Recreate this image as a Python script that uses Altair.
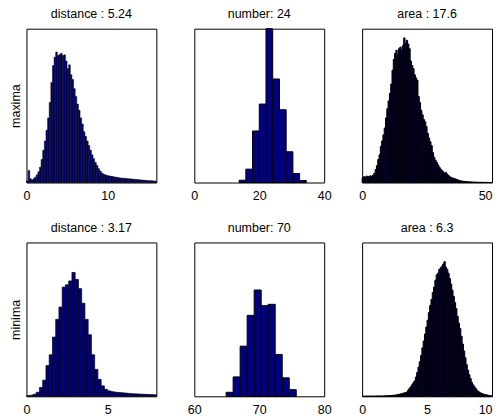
import altair as alt
import pandas as pd

FONT = "Liberation Sans"
FS = 12.5
NAVY = "#000080"

# ---- distance, maxima: bins of 0.2 from 0 to 16 ----
dist_max_start, dist_max_width = 0.0, 0.2
dist_max_counts = [
    10, 78, 25, 17, 25, 35, 50, 70, 100, 150,
    210, 270, 340, 420, 520, 650, 760, 815, 848, 825,
    832, 840, 825, 830, 790, 740, 765, 700, 670, 610,
    560, 510, 470, 420, 380, 330, 300, 270, 240, 210,
    180, 155, 130, 110, 90, 75, 62, 55, 50, 47,
    44, 42, 40, 38, 36, 34, 32, 30, 29, 28,
    27, 26, 25, 24, 23, 22, 21, 20, 19, 18,
    17, 16, 15, 14, 13, 12, 12, 11, 10, 10,
]

# ---- number, maxima ----
num_max_edges = [13.8, 15.87, 17.94, 20.01, 22.08, 24.15, 26.22, 28.29, 30.36, 32.43, 34.5]
num_max_counts = [15, 87, 335, 510, 1000, 673, 473, 200, 59, 13]

# ---- area, maxima: bins of 0.5 from 0 to 50 ----
area_max_start, area_max_width = 0.0, 0.5
area_max_counts = [
    30, 38, 35, 42, 36, 40, 44, 38, 48, 60,
    85, 110, 150, 180, 235, 270, 310, 355, 420, 480,
    530, 580, 640, 730, 800, 840, 860, 830, 870, 880,
    860, 890, 940, 905, 925, 900, 870, 790, 760, 740,
    700, 680, 665, 560, 520, 470, 440, 410, 395, 365,
    320, 290, 265, 240, 195, 165, 145, 130, 115, 100,
    88, 78, 70, 60, 66, 55, 46, 38, 33, 30,
    27, 24, 21, 18, 14, 12, 10, 9, 8, 7,
    6, 5, 5, 4, 4, 3, 3, 3, 2, 2,
    2, 2, 1, 1, 1, 1, 1, 0, 0, 0,
]

# ---- distance, minima: bins of 0.2 from 0 to 8 ----
dist_min_start, dist_min_width = 0.0, 0.2
dist_min_counts = [
    4, 7, 13, 26, 57, 105, 200, 270, 385, 500,
    580, 710, 725, 750, 805, 760, 700, 605, 500, 400,
    270, 175, 110, 68, 45, 35, 30, 27, 25, 23,
    21, 19, 17, 16, 15, 14, 13, 12, 11, 10,
]

# ---- number, minima ----
num_min_edges = [64.9, 65.98, 67.06, 68.14, 69.22, 70.3, 71.38, 72.46, 73.54, 74.62, 75.7]
num_min_counts = [26, 126, 326, 526, 691, 589, 598, 272, 120, 43]

# ---- area, minima: bins of 0.1 from 0 to 10 ----
area_min_start, area_min_width = 0.0, 0.1
area_min_counts = [
    0, 0, 0, 1, 1, 1, 1, 1, 1, 1,
    1, 2, 2, 2, 2, 2, 2, 3, 3, 3,
    4, 4, 5, 6, 7, 8, 9, 11, 13, 15,
    17, 20, 22, 25, 28, 40, 52, 62, 75, 88,
    100, 125, 155, 190, 225, 265, 315, 360, 405, 450,
    495, 545, 590, 630, 675, 710, 755, 790, 800, 825,
    835, 845, 860, 875, 840, 825, 800, 765, 730, 690,
    650, 610, 570, 520, 475, 440, 390, 340, 295, 250,
    205, 170, 140, 115, 90, 75, 62, 50, 40, 32,
    26, 21, 17, 14, 12, 10, 8, 6, 4, 3,
]


def regular_edges(start, width, n):
    return [round(start + width * i, 6) for i in range(n + 1)]


def panel(edges, counts, title, domain, ticks, ylabel=None, stroke_w=1.0, last_right=False):
    df = pd.DataFrame({"x0": edges[:-1], "x1": edges[1:], "h": counts})
    if ylabel:
        yaxis = alt.Axis(title=ylabel, labels=False, ticks=False, domain=False, grid=False,
                         titleFont=FONT, titleFontSize=FS, titleFontWeight="normal",
                         titlePadding=4, titleColor="black")
    else:
        yaxis = None
    if last_right:
        label_align = {"condition": {"test": f"datum.value == {ticks[-1]}", "value": "right"},
                       "value": "center"}
    else:
        label_align = "center"
    return alt.Chart(df).mark_bar(fill=NAVY, stroke="black", strokeWidth=stroke_w, opacity=1,
                                  orient="vertical").encode(
        x=alt.X("x0:Q", scale=alt.Scale(domain=domain, nice=False, zero=False, padding=0),
                axis=alt.Axis(values=ticks, title=None, grid=False, ticks=False, tickSize=0,
                              domain=False, labelFont=FONT, labelFontSize=FS, labelColor="black",
                              labelPadding=7, labelFlush=False, labelOverlap=False, format="d",
                              labelAlign=label_align)),
        x2="x1:Q",
        y=alt.Y("h:Q", scale=alt.Scale(domain=[0, 1000], padding=0), axis=yaxis),
        y2=alt.datum(0),
    ).properties(
        width=130, height=154,
        title=alt.TitleParams(title, font=FONT, fontSize=FS, fontWeight="normal",
                              color="black", offset=8),
    )


p1 = panel(regular_edges(dist_max_start, dist_max_width, len(dist_max_counts)), dist_max_counts,
           "distance : 5.24", [0, 16], [0, 10], ylabel="maxima", stroke_w=0.5)
p2 = panel(num_max_edges, num_max_counts, "number: 24", [0, 40], [0, 20, 40])
p3 = panel(regular_edges(area_max_start, area_max_width, len(area_max_counts)), area_max_counts,
           "area : 17.6", [0, 50], [0, 50], stroke_w=1.0, last_right=True)
p4 = panel(regular_edges(dist_min_start, dist_min_width, len(dist_min_counts)), dist_min_counts,
           "distance : 3.17", [0, 8], [0, 5], ylabel="minima", stroke_w=0.7)
p5 = panel(num_min_edges, num_min_counts, "number: 70", [60, 80], [60, 70, 80])
p6 = panel(regular_edges(area_min_start, area_min_width, len(area_min_counts)), area_min_counts,
           "area : 6.3", [0, 10], [0, 5, 10], stroke_w=1.0, last_right=True)

chart = alt.concat(p1, p2, p3, p4, p5, p6, columns=3,
                   spacing={"row": 60, "column": 38}, bounds="flush").properties(
    padding={"left": 0.5, "top": -1.5, "right": 0, "bottom": 0},
    background="white",
).configure_view(stroke="black", strokeWidth=1)

chart.save("out.html", embed_options={"renderer": "svg", "actions": False})
